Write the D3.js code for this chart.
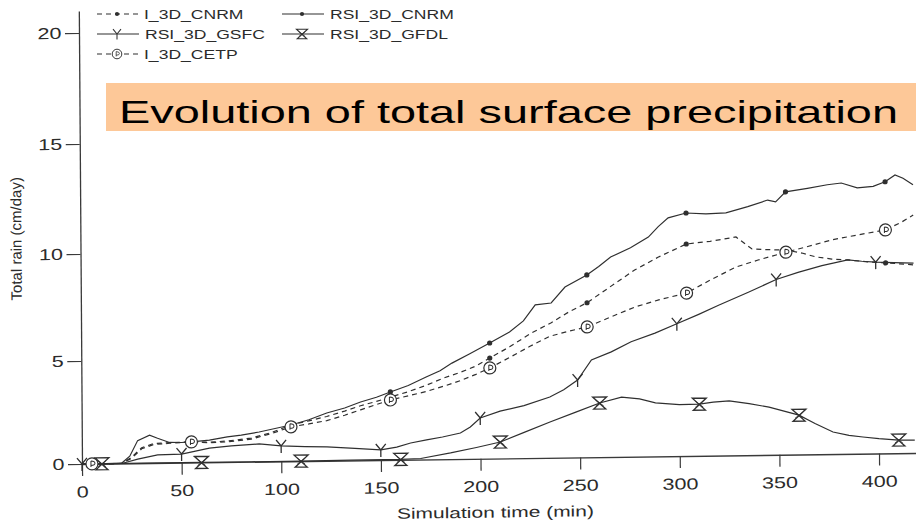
<!DOCTYPE html>
<html>
<head>
<meta charset="utf-8">
<script src="https://cdn.jsdelivr.net/npm/d3@7"></script>
<style>
  body { margin: 0; background: #ffffff; }
  svg { display: block; }
  text { font-family: "Liberation Sans", Arial, Helvetica, sans-serif; fill: #2b2b2b; }
</style>
</head>
<body>
<svg id="chart" width="916" height="527"></svg>
<script>
// Axis ticks
const xTicks = [0, 50, 100, 150, 200, 250, 300, 350, 400];
const yTicks = [0, 5, 10, 15, 20];

// Total rain (cm/day) against simulation time (min), one array per run
const iCnrm = [[0,0],[5,0],[12,0],[20,0],[25,0.3],[30,0.75],[36,0.95],[44,0.98],[55,1.0],[64,0.98],[73,1.02],[85,1.15],[95,1.4],[105,1.76],[114,1.95],[123,2.15],[132,2.4],[140,2.65],[148,2.85],[155,3.05],[164,3.3],[173,3.6],[182,3.95],[190,4.2],[198,4.5],[205,4.88],[215,5.4],[226,6.03],[236,6.5],[245,7.0],[254,7.41],[265,8.1],[278,8.91],[290,9.5],[304,10.09],[316,10.2],[329,10.38],[333,10.1],[337,9.82],[345,9.78],[354,9.75],[362,9.6],[369,9.41],[377,9.3],[385,9.25],[395,9.15],[404,9.09],[418,8.98]];
const rsiCnrm = [[0,0],[5,0],[12,0],[20,0.02],[24,0.35],[28,1.1],[34,1.36],[38,1.2],[44,0.99],[50,0.98],[55,1.0],[64,1.08],[73,1.22],[80,1.3],[89,1.44],[97,1.6],[105,1.76],[114,2.0],[123,2.32],[132,2.55],[140,2.83],[148,3.05],[155,3.3],[164,3.6],[173,4.0],[180,4.3],[186,4.66],[195,5.1],[205,5.59],[215,6.09],[222,6.6],[228,7.34],[236,7.42],[243,8.16],[254,8.71],[260,9.1],[266,9.53],[276,9.95],[285,10.43],[290,10.9],[295,11.29],[304,11.5],[314,11.45],[324,11.48],[335,11.75],[345,12.04],[349,11.95],[354,12.4],[365,12.55],[375,12.7],[382,12.77],[390,12.54],[398,12.6],[404,12.8],[409,13.1],[413,12.95],[418,12.65]];
const rsiGsfc = [[0,0],[10,0],[20,0],[28,0.2],[38,0.39],[50,0.42],[57,0.55],[64,0.69],[75,0.78],[89,0.86],[100,0.75],[112,0.7],[123,0.67],[137,0.58],[150,0.49],[158,0.62],[165,0.81],[173,0.95],[181,1.08],[190,1.26],[195,1.55],[200,1.98],[210,2.3],[222,2.55],[235,2.95],[242,3.3],[249,3.76],[256,4.72],[266,5.1],[276,5.56],[288,5.95],[299,6.37],[310,6.8],[320,7.21],[335,7.8],[349,8.38],[360,8.7],[372,9.0],[385,9.25],[392,9.18],[399,9.13],[408,9.1],[418,9.06]];
const rsiGfdl = [[0,0],[10,0],[30,0],[60,0],[85,0],[110,0],[135,0.02],[160,0.02],[170,0.05],[185,0.3],[198,0.55],[210,0.8],[222,1.25],[235,1.74],[248,2.2],[260,2.63],[271,2.9],[280,2.8],[288,2.6],[300,2.5],[310,2.51],[317,2.6],[325,2.65],[335,2.5],[345,2.32],[360,1.91],[368,1.5],[377,1.07],[385,0.9],[392,0.81],[400,0.72],[410,0.64],[418,0.63]];
const iCetp = [[0,0],[5,0],[12,0],[20,0],[25,0.25],[30,0.7],[36,0.9],[44,0.95],[55,1.0],[64,0.95],[73,0.98],[85,1.1],[95,1.35],[105,1.67],[114,1.8],[123,1.95],[132,2.2],[140,2.45],[148,2.7],[155,2.91],[164,3.1],[173,3.3],[182,3.55],[190,3.8],[198,4.1],[205,4.4],[215,4.9],[225,5.4],[235,5.86],[245,6.1],[254,6.28],[265,6.7],[278,7.18],[290,7.5],[304,7.8],[316,8.4],[329,8.99],[340,9.3],[354,9.65],[365,9.9],[377,10.19],[390,10.4],[404,10.61],[412,10.95],[418,11.27]];

// Times at which each run carries a symbol
const iCnrmMarks = [5, 55, 105, 155, 205, 254, 304, 354, 404];
const rsiCnrmMarks = [5, 55, 105, 155, 205, 254, 304, 354, 404];
const rsiGsfcMarks = [0, 50, 100, 150, 200, 249, 299, 349, 399];
const rsiGfdlMarks = [10, 60, 110, 160, 210, 260, 310, 360, 410];
const iCetpMarks = [5, 55, 105, 155, 205, 254, 304, 354, 404];

const seriesNames = ["I_3D_CNRM", "RSI_3D_CNRM", "RSI_3D_GSFC", "RSI_3D_GFDL", "I_3D_CETP"];

const INK = "#2f2f2f";
const STRETCH = 1.35;   // wide lettering of the printed figure

const series = [
  { name: seriesNames[0], data: iCnrm,   marks: iCnrmMarks,   dashed: true,  sym: "dot" },
  { name: seriesNames[1], data: rsiCnrm, marks: rsiCnrmMarks, dashed: false, sym: "dot" },
  { name: seriesNames[2], data: rsiGsfc, marks: rsiGsfcMarks, dashed: false, sym: "tri" },
  { name: seriesNames[3], data: rsiGfdl, marks: rsiGfdlMarks, dashed: false, sym: "hourglass" },
  { name: seriesNames[4], data: iCetp,   marks: iCetpMarks,   dashed: true,  sym: "circle" }
];

const svg = d3.select("#chart");

const x = d3.scaleLinear().domain([0, 420]).range([82, 82 + 420 * 1.9925]);
const y = d3.scaleLinear().domain([0, 5, 10, 15, 20, 21]).range([464, 361, 254, 144, 33, 11]);

// the printed figure sits slightly askew on the page
const plot = svg.append("g")
  .attr("transform", "translate(82,464) matrix(1,-0.0132,0.007,1,0,0) translate(-82,-464)");

function drawSymbol(g, sym) {
  if (sym === "dot") {
    g.append("circle").attr("r", 2.6).attr("fill", INK);
  } else if (sym === "tri") {
    g.append("path").attr("d", "M-5,-6 L0,0 L5,-6 M0,0 L0,7")
      .attr("fill", "none").attr("stroke", INK).attr("stroke-width", 1.3);
  } else if (sym === "hourglass") {
    g.append("path").attr("d", "M-7,-6 H7 L-6,6 H6 Z")
      .attr("fill", "none").attr("stroke", INK).attr("stroke-width", 1.3);
    g.append("path").attr("d", "M-4,-3 L4,3 M-4,3 L4,-3")
      .attr("fill", "none").attr("stroke", INK).attr("stroke-width", 0.8);
  } else if (sym === "circle") {
    g.append("circle").attr("r", 6).attr("fill", "#fff").attr("stroke", INK).attr("stroke-width", 1.2);
    g.append("path").attr("d", "M-1,-3 V3 M-1,-3 Q3,-3 3,-0.5 Q3,1.5 -1,1.5")
      .attr("fill", "none").attr("stroke", INK).attr("stroke-width", 1);
  }
}

// axes
const xAxis = d3.axisBottom(x).tickValues(xTicks).tickSize(12).tickSizeOuter(0).tickPadding(10);
const yAxis = d3.axisLeft(y).tickValues(yTicks).tickSize(14).tickSizeOuter(0).tickPadding(2);

const gx = plot.append("g").attr("transform", "translate(0,464)").call(xAxis);
const gy = plot.append("g").attr("transform", "translate(82,0)").call(yAxis);

[gx, gy].forEach(g => {
  g.selectAll("path.domain").attr("stroke", "#3a3a3a").attr("stroke-width", 1.3);
  g.selectAll(".tick line").attr("stroke", "#3a3a3a").attr("stroke-width", 1.2);
  g.selectAll("text").attr("font-size", 16).attr("fill", "#333")
    .attr("font-family", "'Liberation Sans', Arial, sans-serif");
});
gx.selectAll("text").attr("transform", `scale(${STRETCH},1)`);
gy.selectAll("text").attr("x", -13).attr("transform", `scale(${STRETCH},1)`);

// axis titles
plot.append("text")
  .attr("transform", `translate(495,523) scale(${STRETCH + 0.05},1)`)
  .attr("text-anchor", "middle").attr("font-size", 15).attr("fill", "#333")
  .text("Simulation time (min)");

plot.append("text")
  .attr("transform", "translate(23,238) rotate(-90)")
  .attr("text-anchor", "middle").attr("font-size", 15).attr("fill", "#333")
  .text("Total rain (cm/day)");

// curves
const line = d3.line().x(d => x(d[0])).y(d => y(d[1]));

series.forEach(s => {
  plot.append("path")
    .datum(s.data)
    .attr("d", line)
    .attr("fill", "none")
    .attr("stroke", INK)
    .attr("stroke-width", 1.2)
    .attr("stroke-dasharray", s.dashed ? "5,4" : null);
});

series.forEach(s => {
  const lookup = new Map(s.data.map(d => [d[0], d[1]]));
  s.marks.forEach(t => {
    const g = plot.append("g").attr("transform", `translate(${x(t)},${y(lookup.get(t))})`);
    drawSymbol(g, s.sym);
  });
});

// legend
const legendItems = [
  { s: series[0], lx: 97,  ly: 14 },
  { s: series[1], lx: 282, ly: 14 },
  { s: series[2], lx: 97,  ly: 34 },
  { s: series[3], lx: 282, ly: 34 },
  { s: series[4], lx: 97,  ly: 54 }
];
legendItems.forEach(it => {
  const g = svg.append("g").attr("transform", `translate(${it.lx},${it.ly})`);
  g.append("line").attr("x1", 0).attr("x2", 42).attr("y1", 0).attr("y2", 0)
    .attr("stroke", INK).attr("stroke-width", 1.2)
    .attr("stroke-dasharray", it.s.dashed ? "5,4" : null);
  const sg = g.append("g").attr("transform", "translate(20,0) scale(0.8)");
  drawSymbol(sg, it.s.sym);
  g.append("text")
    .attr("transform", `translate(${it.s.name.length > 9 ? 48 : 47},5) scale(${STRETCH},1)`)
    .attr("font-size", 13).attr("fill", "#333")
    .text(it.s.name);
});

// banner
svg.append("rect").attr("x", 106).attr("y", 83).attr("width", 830).attr("height", 48)
  .attr("fill", "#fdc898");
svg.append("text")
  .attr("transform", "translate(119,123) scale(1.465,1)")
  .attr("font-size", 32)
  .style("fill", "#000")
  .text("Evolution of total surface precipitation");
</script>
</body>
</html>
